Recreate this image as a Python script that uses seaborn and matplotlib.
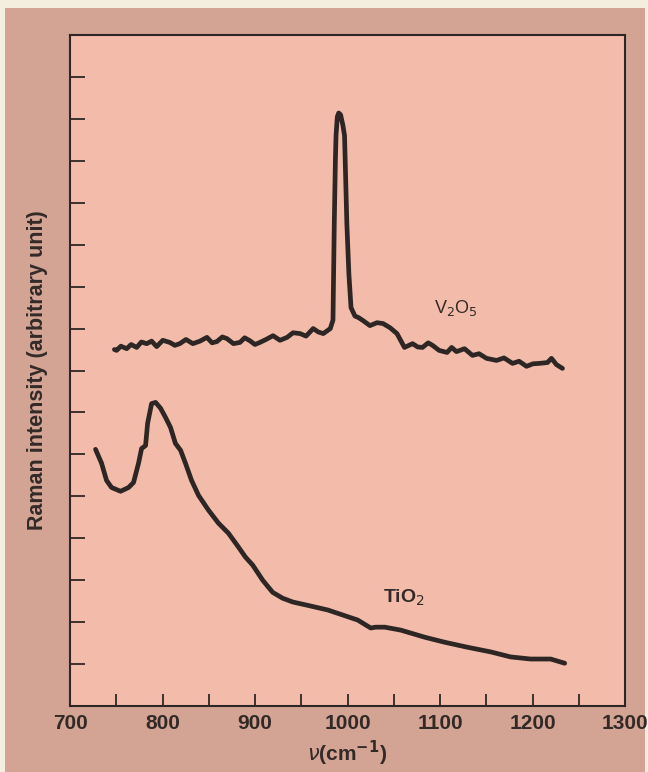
import matplotlib
matplotlib.use("Agg")
import matplotlib.pyplot as plt
import matplotlib.patches as mpatches
import seaborn as sns
import numpy as np

# ---- data ----
v2o5_x = [748, 750.4, 755, 761.3, 766.1, 772.1, 777.2, 782.9, 788.2, 793.7, 800.3, 807.8,
          813.4, 818.7, 825.4, 832.8, 840.5, 848, 853.6, 858.8, 864.7, 869.7, 876.7, 883.8,
          888.8, 894.5, 899.9, 905.4, 911.9, 919.5, 927, 934.7, 941.1, 948.8, 955.2, 962.9,
          968.3, 973.8, 981.4, 984.3, 985.7, 986.9, 987.6, 989, 990.5, 992.5, 995, 996.8,
          999.3, 1001.5, 1003.8, 1008, 1012, 1016.8, 1024.3, 1031.9, 1038.4, 1046, 1053.5,
          1061.6, 1070.3, 1076, 1081.1, 1087.2, 1091.9, 1099, 1107.6, 1112.6, 1117.8,
          1126.5, 1135.1, 1142.2, 1150.3, 1161.1, 1169.2, 1178.4, 1185.5, 1193.5, 1200.6,
          1207.6, 1216.2, 1220.5, 1225.9, 1232.4]
v2o5_y = [8.50, 8.48, 8.58, 8.52, 8.62, 8.55, 8.68, 8.64, 8.70, 8.57, 8.72, 8.67,
          8.60, 8.64, 8.74, 8.64, 8.70, 8.79, 8.66, 8.69, 8.80, 8.76, 8.64, 8.67,
          8.78, 8.71, 8.62, 8.67, 8.74, 8.83, 8.72, 8.79, 8.90, 8.88, 8.82, 9.00,
          8.92, 8.88, 9.00, 9.20, 11.50, 13.00, 13.60, 14.05, 14.14, 14.10, 13.85, 13.60,
          11.50, 10.30, 9.50, 9.30, 9.26, 9.19, 9.07, 9.14, 9.12, 9.02, 8.88,
          8.55, 8.64, 8.56, 8.55, 8.66, 8.60, 8.48, 8.43, 8.55, 8.45,
          8.52, 8.36, 8.40, 8.29, 8.24, 8.30, 8.17, 8.22, 8.10, 8.16,
          8.17, 8.19, 8.29, 8.14, 8.05]

tio2_x = [727.6, 734.1, 739.5, 744.9, 754.7, 763.3, 768.7, 774.1, 777.4, 781.7, 783.9, 788.2,
          792.5, 797.9, 803.3, 808.7, 814, 819.5, 824.8, 831.4, 839, 849.7, 860.5, 871.3,
          882.1, 889.7, 897.5, 908.3, 919.1, 929.9, 940.8, 957, 978.6, 994.8, 1011,
          1025.1, 1030.5, 1040.2, 1057.5, 1083.5, 1105.1, 1129.9, 1154.8, 1176.4, 1198,
          1219.6, 1234.8]
tio2_y = [6.12, 5.79, 5.38, 5.21, 5.12, 5.21, 5.33, 5.79, 6.14, 6.21, 6.74, 7.21,
          7.24, 7.10, 6.88, 6.64, 6.26, 6.10, 5.79, 5.38, 5.02, 4.67, 4.36, 4.12,
          3.79, 3.55, 3.36, 3.00, 2.71, 2.57, 2.48, 2.40, 2.29, 2.17, 2.05,
          1.86, 1.88, 1.88, 1.81, 1.64, 1.52, 1.40, 1.29, 1.17, 1.12,
          1.12, 1.02]

x_major = [700, 800, 900, 1000, 1100, 1200, 1300]
x_minor = [750, 850, 950, 1050, 1150, 1250]
y_ticks = list(range(1, 16))

# ---- styling ----
sns.set_style("ticks")
plt.rcParams['font.family'] = ['Liberation Sans', 'DejaVu Sans']

fig_bg = "#f4eedf"
rose = "#d3a393"
axes_bg = "#f3bcaa"
ink = "#2e2624"
txt = "#332a28"

fig = plt.figure(figsize=(6.48, 7.72), dpi=100, facecolor=fig_bg)
fig.patches.append(mpatches.Rectangle((5 / 648, 0), 640 / 648, (772 - 8) / 772,
                                      transform=fig.transFigure, facecolor=rose,
                                      edgecolor="none", zorder=-10))
ax = fig.add_axes([70 / 648, (772 - 706) / 772, 555 / 648, 671 / 772])
ax.set_zorder(1)
ax.set_facecolor(axes_bg)

sns.lineplot(x=v2o5_x, y=v2o5_y, ax=ax, color=ink, lw=3.4, sort=False, estimator=None)
sns.lineplot(x=tio2_x, y=tio2_y, ax=ax, color=ink, lw=3.4, sort=False, estimator=None)

ax.set_xlim(700, 1300)
ax.set_ylim(0, 16)
ax.set_xticks(x_major)
ax.set_xticks(x_minor, minor=True)
ax.set_xticklabels([str(v) for v in x_major])
ax.set_yticks(y_ticks)
ax.set_yticklabels([])

for s in ax.spines.values():
    s.set_color(ink)
    s.set_linewidth(1.5)

ax.tick_params(axis='x', which='both', direction='in', length=9, width=1.3,
               color=ink, pad=6, labelsize=15, labelcolor=txt)
ax.tick_params(axis='y', which='both', direction='in', length=11, width=1.3, color=ink)
for lbl in ax.get_xticklabels():
    lbl.set_fontweight('bold')

ax.set_xlabel(r"$\nu$(cm$^{\mathbf{-1}}$)", fontsize=15, fontweight='bold', color=txt,
              labelpad=4)
ax.set_ylabel("Raman intensity (arbitrary unit)", fontsize=15.5, fontweight='bold',
              color=txt, labelpad=12)

ax.text(1117, 9.48, r"V$_2$O$_5$", fontsize=13, color=txt, ha='center', va='center')
ax.text(1061, 2.57, r"TiO$_2$", fontsize=14, fontweight='bold', color=txt,
        ha='center', va='center')

fig.savefig("out.png", dpi=100, facecolor=fig.get_facecolor())
